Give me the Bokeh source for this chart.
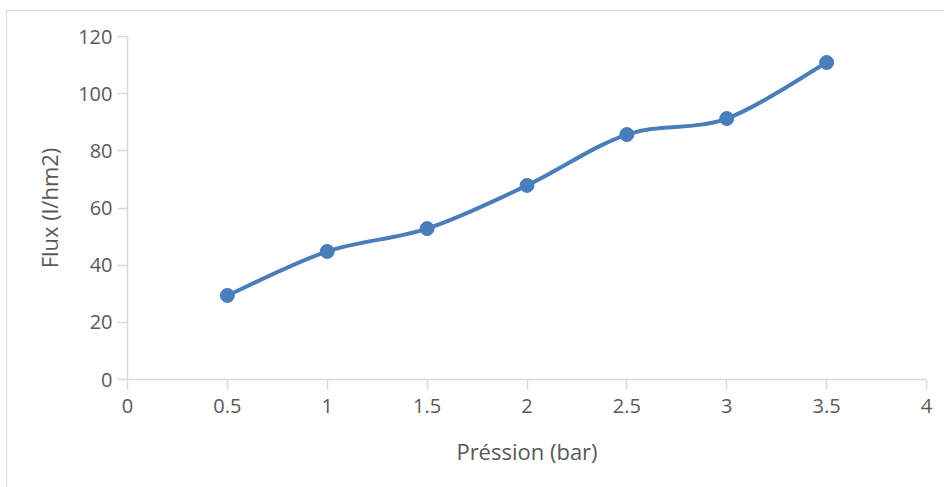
from bokeh.plotting import figure
from bokeh.models import Range1d, FixedTicker, ColumnDataSource
from bokeh.embed import file_html
from bokeh.resources import INLINE

# ---- data ----
pression = [0.5, 1.0, 1.5, 2.0, 2.5, 3.0, 3.5]
flux = [29.4, 44.8, 52.8, 67.9, 85.7, 91.3, 110.9]
x_ticks = [0, 0.5, 1, 1.5, 2, 2.5, 3, 3.5, 4]
x_tick_labels = ["0", "0.5", "1", "1.5", "2", "2.5", "3", "3.5", "4"]
y_ticks = [0, 20, 40, 60, 80, 100, 120]
y_tick_labels = ["0", "20", "40", "60", "80", "100", "120"]
x_title = "Préssion (bar)"
y_title = "Flux (l/hm2)"

BLUE = "#4a7ebb"
GREY_AX = "#d9d9d9"
TXT = "#595959"
FONT = "Open Sans"

# smoothed line segments (Catmull-Rom style control points, like spreadsheet "smoothed line")
n = len(pression)
seg = dict(x0=[], y0=[], x1=[], y1=[], cx0=[], cy0=[], cx1=[], cy1=[])
for i in range(n - 1):
    a = i - 1 if i > 0 else i
    d = i + 2 if i + 2 < n else i + 1
    seg["x0"].append(pression[i]); seg["y0"].append(flux[i])
    seg["x1"].append(pression[i + 1]); seg["y1"].append(flux[i + 1])
    seg["cx0"].append(pression[i] + (pression[i + 1] - pression[a]) / 6)
    seg["cy0"].append(flux[i] + (flux[i + 1] - flux[a]) / 6)
    seg["cx1"].append(pression[i + 1] - (pression[d] - pression[i]) / 6)
    seg["cy1"].append(flux[i + 1] - (flux[d] - flux[i]) / 6)

p = figure(
    frame_width=799, frame_height=343,
    min_border_left=120, min_border_right=18, min_border_top=25, min_border_bottom=108,
    x_range=Range1d(0, 4), y_range=Range1d(0, 120),
    output_backend="svg", toolbar_location=None,
    background_fill_color="white", border_fill_color="white",
)
p.margin = (10, 0, 0, 6)
p.styles = {"border-top": "1px solid #d9d9d9", "border-left": "1px solid #d9d9d9"}
p.outline_line_color = None
p.grid.visible = False

p.bezier(source=ColumnDataSource(seg), x0="x0", y0="y0", x1="x1", y1="y1",
         cx0="cx0", cy0="cy0", cx1="cx1", cy1="cy1",
         line_color=BLUE, line_width=4)
p.scatter(pression, flux, size=14, color=BLUE)

for ax, ticks, labels in ((p.xaxis[0], x_ticks, x_tick_labels), (p.yaxis[0], y_ticks, y_tick_labels)):
    ax.ticker = FixedTicker(ticks=ticks)
    ax.major_label_overrides = {t: l for t, l in zip(ticks, labels)}
    ax.axis_line_color = GREY_AX
    ax.axis_line_width = 1.5
    ax.major_tick_line_color = GREY_AX
    ax.major_tick_line_width = 1.5
    ax.major_tick_out = 10
    ax.major_tick_in = 0
    ax.minor_tick_line_color = None
    ax.major_label_text_font = FONT
    ax.major_label_text_font_size = "20px"
    ax.major_label_text_color = TXT
    ax.axis_label_text_font = FONT
    ax.axis_label_text_font_size = "22px"
    ax.axis_label_text_font_style = "normal"
    ax.axis_label_text_color = TXT

p.xaxis.axis_label = x_title
p.yaxis.axis_label = y_title
p.xaxis.major_label_standoff = 9
p.yaxis.major_label_standoff = 5
p.xaxis.axis_label_standoff = 20
p.yaxis.axis_label_standoff = 11

open("out.html", "w").write(file_html(p, INLINE))
